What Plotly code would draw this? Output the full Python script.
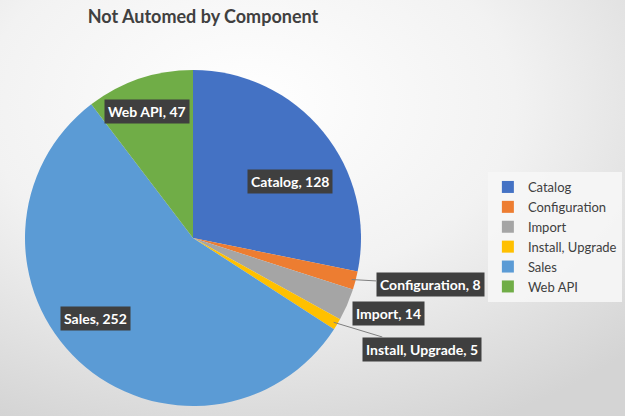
import base64, math
import plotly.graph_objects as go

components = ["Catalog", "Configuration", "Import", "Install, Upgrade", "Sales", "Web API"]
counts = [128, 8, 14, 5, 252, 47]
colors = ["#4472C4", "#ED7D31", "#A5A5A5", "#FFC000", "#5B9BD5", "#70AD47"]

W, H = 625, 416
cx, cy, R = 193, 238, 168  # pie centre / radius in pixels

# label box centres (pixels) and whether a leader line is drawn
label_pos = {
    "Catalog": (290, 181, False),
    "Configuration": (430, 284, True),
    "Import": (389, 313, False),
    "Install, Upgrade": (422, 349, True),
    "Sales": (95, 318, False),
    "Web API": (147, 111, False),
}

svg = f'''<svg xmlns="http://www.w3.org/2000/svg" width="{W}" height="{H}" preserveAspectRatio="none">
<defs><radialGradient id="g" cx="40%" cy="25%" r="85%">
<stop offset="0%" stop-color="#ffffff"/><stop offset="50%" stop-color="#f2f2f2"/>
<stop offset="100%" stop-color="#d4d4d4"/></radialGradient></defs>
<rect width="{W}" height="{H}" fill="url(#g)"/></svg>'''
bg = "data:image/svg+xml;base64," + base64.b64encode(svg.encode()).decode()

fig = go.Figure(go.Pie(
    labels=components, values=counts, sort=False, direction="clockwise", rotation=0,
    marker=dict(colors=colors, line=dict(width=0)), textinfo="none", hoverinfo="label+value",
    domain=dict(x=[(cx - R) / W, (cx + R) / W], y=[1 - (cy + R) / H, 1 - (cy - R) / H]),
))

total = sum(counts)
cum = 0
anns = []
for name, v in zip(components, counts):
    mid = (cum + v / 2) / total * 2 * math.pi
    cum += v
    lx, ly, line = label_pos[name]
    text = f"<b>{name}, {v}</b>"
    common = dict(text=text, xref="paper", yref="paper", font=dict(family="Lato", size=14, color="white"),
                  bgcolor="#3f3f3f", borderpad=3, xanchor="center", yanchor="middle")
    if line:
        ex = cx + (R - 4) * math.sin(mid)
        ey = cy - (R - 4) * math.cos(mid)
        anns.append(dict(x=ex / W, y=1 - ey / H, ax=lx - ex, ay=ly - ey, showarrow=True,
                         arrowhead=0, arrowwidth=1, arrowcolor="#7f7f7f", standoff=0, **common))
    else:
        anns.append(dict(x=lx / W, y=1 - ly / H, showarrow=False, **common))

fig.update_layout(
    width=W, height=H, margin=dict(l=0, r=0, t=0, b=0),
    paper_bgcolor="#ececec", plot_bgcolor="rgba(0,0,0,0)",
    images=[dict(source=bg, xref="paper", yref="paper", x=0, y=1, sizex=1, sizey=1,
                 sizing="stretch", layer="below", xanchor="left", yanchor="top")],
    title=dict(text="<b>Not Automed by Component</b>", x=203 / W, xanchor="center", y=1 - 17 / H,
               yanchor="middle", font=dict(family="Lato", size=18, color="#404040")),
    legend=dict(x=0.995, y=1 - 172 / H, xanchor="right", yanchor="top",
                bgcolor="rgba(246,246,246,0.9)", font=dict(family="Lato", size=13, color="#404040"),
                itemwidth=30, tracegroupgap=0),
    annotations=anns,
    showlegend=True,
)
fig.write_html("out.html")
